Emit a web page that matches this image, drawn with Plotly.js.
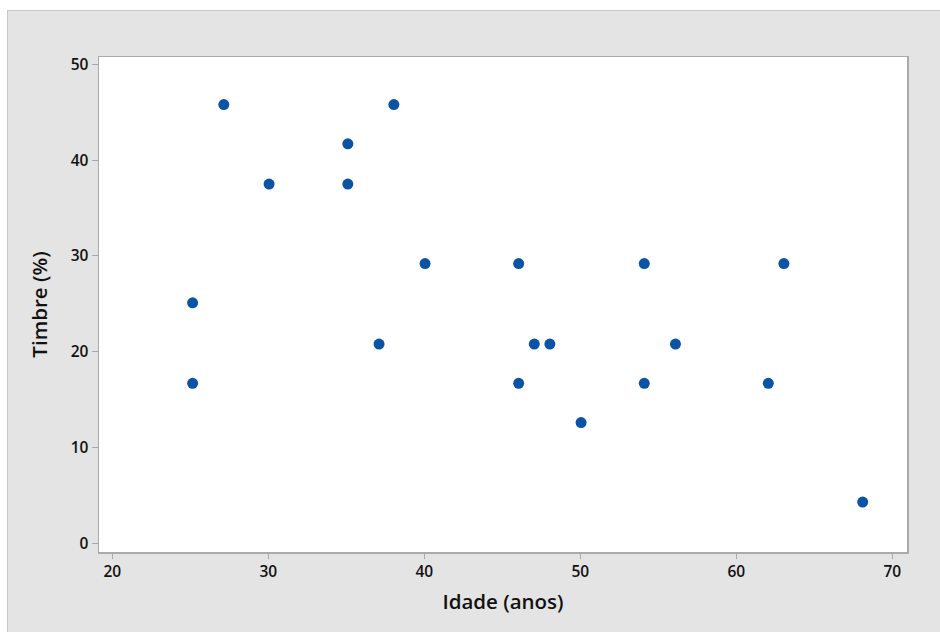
<!DOCTYPE html>
<html>
<head>
<meta charset="utf-8">
<script src="https://cdn.plot.ly/plotly-3.0.1.min.js"></script>
<style>
  html, body { margin: 0; padding: 0; background: #ffffff; width: 940px; height: 632px; overflow: hidden; }
  #frame { position: absolute; left: 7px; top: 10px; border-top: 1px solid #c8c8c8; border-left: 1px solid #c8c8c8; background: #e4e4e4; }
  #chart { width: 932px; height: 621px; }
</style>
</head>
<body>
<div id="frame"><div id="chart"></div></div>
<script>
const idade  = [27.15, 25.15, 25.15, 30.05, 35.1, 35.1, 38.05, 37.1, 40.05, 46.05, 46.05, 47.05, 48.05, 50.05, 54.1, 54.1, 56.1, 62.05, 63.05, 68.1];
const timbre = [45.8, 25.1, 16.7, 37.5, 41.7, 37.5, 45.8, 20.8, 29.2, 29.2, 16.7, 20.8, 20.8, 12.6, 29.2, 16.7, 20.8, 16.7, 29.2, 4.3];
const xTicks = [20, 30, 40, 50, 60, 70];
const yTicks = [0, 10, 20, 30, 40, 50];

const fontFam = '"Open Sans", "Noto Sans", sans-serif';

Plotly.newPlot('chart', [{
  type: 'scatter',
  mode: 'markers',
  x: idade,
  y: timbre,
  marker: { color: '#0a53a5', size: 11 },
  hoverinfo: 'x+y'
}], {
  width: 932,
  height: 621,
  paper_bgcolor: '#e4e4e4',
  plot_bgcolor: '#ffffff',
  margin: { l: 91, r: 33, t: 46, b: 80 },
  showlegend: false,
  font: { family: fontFam, color: '#111111', size: 15 },
  xaxis: {
    range: [19.15, 70.94],
    tickvals: xTicks,
    ticktext: xTicks.map(String),
    ticks: 'outside', ticklen: 5, tickcolor: '#a8a8a8', tickwidth: 1,
    showline: true, linecolor: '#aaaaaa', linewidth: 1.5, mirror: true,
    showgrid: false, zeroline: false,
    tickfont: { family: fontFam, size: 15.5, color: '#111111', weight: 600 },
    title: { text: 'Idade (anos)', font: { family: fontFam, size: 20.5, color: '#111111', weight: 600 }, standoff: 13 }
  },
  yaxis: {
    range: [-0.91, 50.76],
    tickvals: yTicks,
    ticktext: yTicks.map(String),
    ticks: 'outside', ticklen: 6, tickcolor: '#a8a8a8', tickwidth: 1,
    showline: true, linecolor: '#aaaaaa', linewidth: 1.5, mirror: true,
    showgrid: false, zeroline: false,
    tickfont: { family: fontFam, size: 15.5, color: '#111111', weight: 600 },
    title: { text: 'Timbre (%)', font: { family: fontFam, size: 20.5, color: '#111111', weight: 600 }, standoff: 17 }
  }
}, { displayModeBar: false, staticPlot: true });
</script>
</body>
</html>
